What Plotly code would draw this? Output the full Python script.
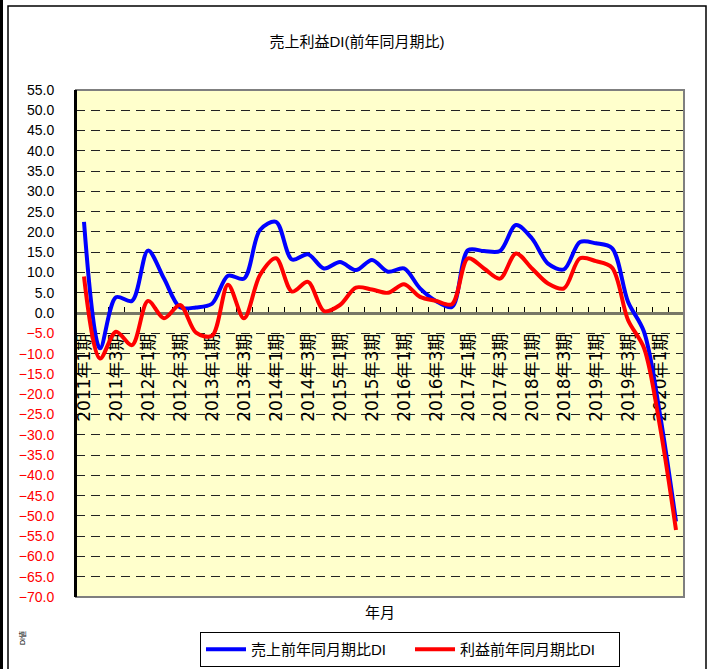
import plotly.graph_objects as go

quarters = [
    "2011年1期", "2011年2期", "2011年3期", "2011年4期",
    "2012年1期", "2012年2期", "2012年3期", "2012年4期",
    "2013年1期", "2013年2期", "2013年3期", "2013年4期",
    "2014年1期", "2014年2期", "2014年3期", "2014年4期",
    "2015年1期", "2015年2期", "2015年3期", "2015年4期",
    "2016年1期", "2016年2期", "2016年3期", "2016年4期",
    "2017年1期", "2017年2期", "2017年3期", "2017年4期",
    "2018年1期", "2018年2期", "2018年3期", "2018年4期",
    "2019年1期", "2019年2期", "2019年3期", "2019年4期",
    "2020年1期", "2020年2期",
]
tick_labels = [
    "2011年1期", "2011年3期", "2012年1期", "2012年3期", "2013年1期",
    "2013年3期", "2014年1期", "2014年3期", "2015年1期", "2015年3期",
    "2016年1期", "2016年3期", "2017年1期", "2017年3期", "2018年1期",
    "2018年3期", "2019年1期", "2019年3期", "2020年1期",
]
sales_di = [22.5, -8.7, 3.9, 3.0, 15.4, 8.5, 1.4, 1.4, 2.3, 9.2,
            8.5, 20.5, 22.5, 13.2, 14.5, 11.0, 12.6, 10.6, 13.1, 10.2,
            11.0, 6.1, 3.0, 1.5, 15.5, 15.3, 15.3, 21.7, 18.4, 12.2,
            10.8, 17.5, 17.2, 16.0, 2.8, -4.6, -25.0, -51.4]
profit_di = [9.0, -11.2, -4.6, -7.9, 3.0, -1.3, 2.0, -4.8, -5.6, 7.0,
             -1.3, 9.4, 13.5, 5.3, 7.7, 0.5, 2.0, 6.3, 5.8, 5.0,
             7.1, 4.0, 3.0, 2.2, 13.5, 11.0, 8.5, 14.7, 11.0, 7.3,
             6.1, 13.5, 12.8, 11.2, -1.7, -8.6, -28.0, -53.5]
y_ticks = [55, 50, 45, 40, 35, 30, 25, 20, 15, 10, 5, 0, -5, -10, -15, -20,
           -25, -30, -35, -40, -45, -50, -55, -60, -65, -70]

FONT = "Liberation Sans, Arial, Noto Sans CJK JP, sans-serif"

x_idx = list(range(len(quarters)))
tick_idx = [quarters.index(t) for t in tick_labels]
y_text = [f"{v:.1f}" if v >= 0 else
          f"<span style='color:#FF0000'>−{abs(v):.1f}</span>" for v in y_ticks]

# plot area in pixels
L, R, T, B = 76, 684, 90, 597
W, H = 708, 669
pw, ph = R - L, B - T


def px(x):
    return (x - L) / pw


def py(y):
    return (B - y) / ph


fig = go.Figure()
fig.add_trace(go.Scatter(x=x_idx, y=sales_di, mode="lines", name="売上前年同月期比DI",
                         line=dict(color="#0000FF", width=4, shape="spline", smoothing=0.9)))
fig.add_trace(go.Scatter(x=x_idx, y=profit_di, mode="lines", name="利益前年同月期比DI",
                         line=dict(color="#FF0000", width=4, shape="spline", smoothing=0.9)))

ymin, ymax = -70, 55
fig.update_layout(
    width=W, height=H,
    margin=dict(l=L, r=W - R, t=T, b=H - B, autoexpand=False),
    paper_bgcolor="white",
    plot_bgcolor="#FFFFCC",
    font=dict(family=FONT, color="black"),
    title=dict(text="売上利益DI(前年同月期比)", x=357 / W, xref="container", xanchor="center",
               y=1 - 42 / H, yref="container", yanchor="middle",
               font=dict(size=15, family=FONT, color="black")),
    showlegend=True,
    legend=dict(orientation="h", x=200 / W, y=1 - 632 / H, xref="container", yref="container",
                xanchor="left", yanchor="top",
                bordercolor="black", borderwidth=1, bgcolor="white",
                font=dict(size=15, family=FONT), itemwidth=40, tracegroupgap=0,
                entrywidth=154, entrywidthmode="pixels"),
    xaxis=dict(range=[-0.5, len(quarters) - 0.5], anchor="free",
               position=(0 - ymin) / (ymax - ymin),
               tickmode="array", tickvals=tick_idx, ticktext=tick_labels,
               tickangle=-90, ticks="", showgrid=False, zeroline=False,
               showline=True, linecolor="#777766", linewidth=2.5,
               tickfont=dict(size=17, family="DejaVu Sans, Noto Sans CJK JP", color="black"),
               ticklabelstandoff=12, layer="below traces",
               minor=dict(tickmode="linear", tick0=-0.5, dtick=1, ticks="inside",
                          ticklen=5, tickwidth=1, tickcolor="black", showgrid=False)),
    yaxis=dict(range=[ymin, ymax], tickmode="array", tickvals=y_ticks, ticktext=y_text,
               ticks="", showgrid=True, gridcolor="#222222", gridwidth=1,
               griddash="9px,6px", zeroline=False, showline=True, linecolor="black",
               linewidth=2, tickfont=dict(size=14, family=FONT, color="black"),
               ticklabelstandoff=17, layer="below traces"),
)

# plot area border (gray)
fig.add_shape(type="rect", xref="paper", yref="paper", x0=0, x1=1, y0=0, y1=1,
              line=dict(color="#7f7f7f", width=2), layer="above")
fig.add_shape(type="line", xref="paper", yref="paper", x0=0, x1=0, y0=0, y1=1,
              line=dict(color="black", width=2), layer="above")
# outer chart frame
fig.add_shape(type="rect", xref="paper", yref="paper", x0=px(8), x1=px(706),
              y0=py(680), y1=py(6), line=dict(color="black", width=1.5))
fig.add_shape(type="line", xref="paper", yref="paper", x0=px(1.5), x1=px(1.5),
              y0=py(690), y1=py(-10), line=dict(color="black", width=3))

fig.add_annotation(text="年月", xref="paper", yref="paper", x=px(380), y=py(612),
                   xanchor="center", yanchor="middle",
                   showarrow=False, font=dict(size=15, family=FONT))
fig.add_annotation(text="DI値", xref="paper", yref="paper", x=px(22), y=py(638),
                   xanchor="center", yanchor="middle",
                   showarrow=False, textangle=-90, font=dict(size=7, family=FONT))

fig.write_html("out.html", config={"displayModeBar": False},
               post_script="document.body.style.margin='0';")
